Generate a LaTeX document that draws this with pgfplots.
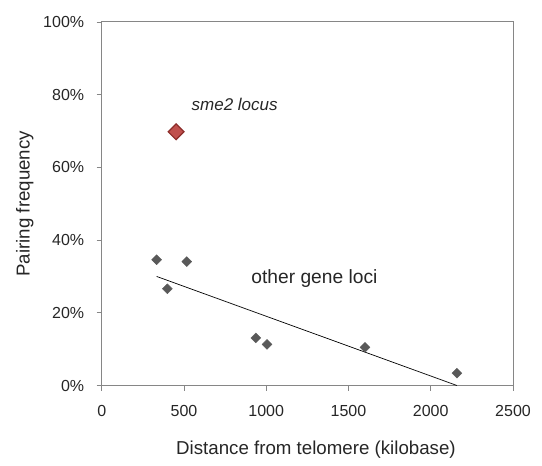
\documentclass[border=0pt]{standalone}
\usepackage{pgfplots}
\pgfplotsset{compat=1.18}
\usepackage{fontspec}
\setmainfont{Liberation Sans}

\definecolor{framegray}{RGB}{134,134,134}
\definecolor{ptgray}{RGB}{89,89,89}
\definecolor{smefill}{RGB}{192,80,77}
\definecolor{smedraw}{RGB}{140,45,42}

\begin{document}
\begin{tikzpicture}
\begin{axis}[
    scale only axis,
    width=411.3pt,
    height=363.5pt,
    xmin=0, xmax=2500,
    ymin=0, ymax=100,
    xtick={0,500,...,2500},
    ytick={0,20,...,100},
    yticklabel={\pgfmathprintnumber{\tick}\%},
    /pgf/number format/assume math mode=true,
    /pgf/number format/1000 sep={},
    tick pos=left,
    tick align=outside,
    major tick length=5pt,
    axis line style={framegray, line width=1pt},
    tick style={framegray, line width=0.8pt},
    tick label style={font=\fontsize{16}{19}\selectfont, text=black!85},
    xticklabel style={yshift=-11pt},
    yticklabel style={xshift=-9pt},
    xlabel={Distance from telomere (kilobase)},
    ylabel={Pairing frequency},
    every axis x label/.style={at={(axis description cs:0.521,-0.19)}, anchor=base,
        font=\fontsize{18.7}{22}\selectfont, text=black!85},
    every axis y label/.style={at={(axis description cs:-0.187,0.5)}, rotate=90, anchor=center,
        font=\fontsize{18.7}{22}\selectfont, text=black!85},
    clip=false,
]
% trend line of the other loci
\addplot[black, line width=0.7pt, no marks] coordinates {
    (334,30.0) (2159,0.0)
};
% other gene loci
\addplot[only marks, mark=square*, mark size=3.5pt,
    mark options={rotate=45, fill=ptgray, draw=ptgray}] coordinates {
    (334,34.6)
    (399,26.6)
    (517,34.1)
    (937,13.1)
    (1005,11.3)
    (1600,10.5)
    (2159,3.4)
};
% sme2 locus
\addplot[only marks, mark=square*, mark size=5.6pt,
    mark options={rotate=45, fill=smefill, draw=smedraw, line width=1.2pt}] coordinates {
    (452,69.8)
};
\node[font=\fontsize{17}{20}\selectfont\itshape, text=black!85] at (axis cs:808,77.2) {sme2 locus};
\node[font=\fontsize{19.2}{22}\selectfont, text=black!85] at (axis cs:1293,29.4) {other gene loci};
\end{axis}
\path[use as bounding box] ([shift={(-101.7pt,-80.3pt)}]current axis.south west)
    rectangle ([shift={(29pt,22pt)}]current axis.north east);
\end{tikzpicture}
\end{document}
